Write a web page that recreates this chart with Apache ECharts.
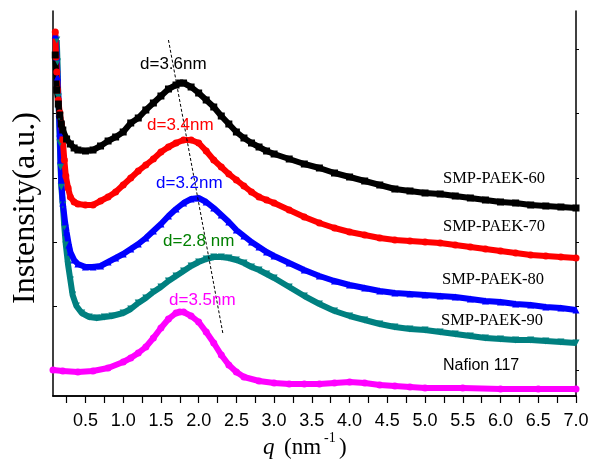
<!DOCTYPE html>
<html>
<head>
<meta charset="utf-8">
<script src="https://cdn.jsdelivr.net/npm/echarts@6/dist/echarts.min.js"></script>
<style>
  html, body { margin: 0; padding: 0; background: #fff; }
  #chart { width: 593px; height: 464px; }
</style>
</head>
<body>
<div id="chart"></div>
<script>
// SAXS profiles: [q (nm^-1), intensity (a.u., offset per sample)]
const paek60 = [[0.10,341],[0.12,306],[0.14,292],[0.16,281],[0.18,272],[0.20,266],[0.25,257],[0.30,252],[0.35,248],[0.40,246],[0.50,245],[0.60,246],[0.70,250],[0.80,255],[0.90,259],[1.00,264],[1.10,273],[1.20,278],[1.30,286],[1.40,293],[1.50,300],[1.60,307],[1.70,311],[1.75,313],[1.80,313],[1.90,309],[2.00,303],[2.10,296],[2.20,289],[2.30,280],[2.40,272],[2.50,264],[2.60,258],[2.70,253],[2.80,249],[2.90,245],[3.00,242],[3.20,237],[3.40,232],[3.60,228],[3.80,223],[4.00,219],[4.20,215],[4.40,211],[4.60,207],[4.80,205],[5.00,203],[5.20,202],[5.40,200],[5.60,198],[5.80,196],[6.00,194],[6.20,193],[6.40,191],[6.60,190],[6.80,189],[7.00,188]];

const paek70 = [[0.10,364],[0.11,339],[0.12,324],[0.13,306],[0.14,296],[0.16,283],[0.18,272],[0.20,256],[0.22,236],[0.24,220],[0.27,208],[0.30,199],[0.35,194],[0.40,192],[0.50,191],[0.60,191],[0.70,195],[0.80,199],[0.90,204],[1.00,211],[1.10,218],[1.20,225],[1.30,231],[1.40,237],[1.50,244],[1.60,249],[1.70,253],[1.80,256],[1.90,256],[2.00,253],[2.10,245],[2.20,236],[2.30,229],[2.40,222],[2.50,216],[2.60,210],[2.70,204],[2.80,199],[2.90,196],[3.00,193],[3.20,186],[3.40,179],[3.60,173],[3.80,168],[4.00,164],[4.20,161],[4.40,158],[4.60,156],[4.80,155],[5.00,154],[5.20,153],[5.40,151],[5.60,149],[5.80,147],[6.00,145],[6.20,143],[6.40,141],[6.60,140],[6.80,139],[7.00,138]];

const paek80 = [[0.10,361],[0.12,339],[0.13,319],[0.15,283],[0.16,263],[0.17,236],[0.18,216],[0.20,193],[0.23,174],[0.25,164],[0.28,151],[0.30,144],[0.35,136],[0.40,132],[0.50,129],[0.60,129],[0.70,130],[0.80,134],[0.90,138],[1.00,142],[1.10,147],[1.20,152],[1.30,158],[1.40,165],[1.50,172],[1.60,180],[1.70,187],[1.80,193],[1.90,197],[2.00,198],[2.10,194],[2.20,188],[2.30,181],[2.40,174],[2.50,166],[2.60,160],[2.70,154],[2.80,149],[2.90,144],[3.00,140],[3.20,133],[3.40,126],[3.60,120],[3.80,115],[4.00,111],[4.20,108],[4.40,105],[4.60,103],[4.80,102],[5.00,101],[5.20,100],[5.40,99],[5.60,97],[5.80,95],[6.00,94],[6.20,92],[6.40,91],[6.60,89],[6.80,88],[7.00,86]];

const paek90 = [[0.12,356],[0.13,334],[0.14,299],[0.15,279],[0.16,253],[0.17,229],[0.18,209],[0.20,191],[0.22,169],[0.24,151],[0.27,131],[0.30,116],[0.33,101],[0.38,90],[0.45,83],[0.55,79],[0.65,78],[0.75,79],[0.85,80],[1.00,83],[1.10,87],[1.20,93],[1.30,98],[1.40,104],[1.50,109],[1.60,115],[1.70,120],[1.80,125],[1.90,130],[2.00,134],[2.10,137],[2.20,139],[2.30,139],[2.40,138],[2.50,136],[2.60,133],[2.70,129],[2.80,126],[2.90,122],[3.00,118],[3.20,109],[3.40,100],[3.60,92],[3.80,85],[4.00,80],[4.20,76],[4.40,72],[4.60,69],[4.80,67],[5.00,66],[5.20,64],[5.40,62],[5.60,60],[5.80,58],[6.00,57],[6.20,56],[6.40,56],[6.60,55],[6.80,54],[7.00,53]];

const nafion117 = [[0.07,26],[0.20,25],[0.40,24],[0.60,25],[0.80,28],[1.00,34],[1.10,38],[1.20,43],[1.30,49],[1.40,58],[1.50,68],[1.60,77],[1.70,83],[1.75,84],[1.80,84],[1.90,80],[2.00,74],[2.10,64],[2.20,53],[2.30,41],[2.40,31],[2.50,24],[2.60,19],[2.80,15],[3.00,13],[3.20,12],[3.40,12],[3.60,12],[3.80,13],[4.00,14],[4.20,13],[4.40,11],[4.60,10],[4.80,9],[5.00,8],[5.50,8],[6.00,7],[6.50,7],[7.00,7]];

// dashed guide through the scattering maxima
const peakGuide = [[1.60,356],[2.32,63]];

// axis ticks and labels
const xTicks = [0.25,0.5,0.75,1.0,1.25,1.5,1.75,2.0,2.25,2.5,2.75,3.0,3.25,3.5,3.75,4.0,4.25,4.5,4.75,5.0,5.25,5.5,5.75,6.0,6.25,6.5,6.75,7.0];
const xLabels = [0.5,1.0,1.5,2.0,2.5,3.0,3.5,4.0,4.5,5.0,5.5,6.0,6.5,7.0];
const yTicks = [25.5,89.7,153.9,218.1,282.3,346.5];

const sampleNames = ['SMP-PAEK-60','SMP-PAEK-70','SMP-PAEK-80','SMP-PAEK-90','Nafion 117'];
const spacingLabels = ['d=3.6nm','d=3.4nm','d=3.2nm','d=2.8 nm','d=3.5nm'];

const chart = echarts.init(document.getElementById('chart'), null, { renderer: 'canvas' });

const SERIF = '"Liberation Serif", "Times New Roman", serif';
const SANS = '"Liberation Sans", Arial, sans-serif';
const downTri = 'path://M0,0 L10,0 L5,9 Z';

function band(name, data, color, symbol) {
  return {
    name: name,
    type: 'line',
    data: data,
    symbol: symbol,
    symbolSize: 7,
    showAllSymbol: true,
    lineStyle: { color: color, width: 6 },
    itemStyle: { color: color },
    emphasis: { disabled: true },
    animation: false
  };
}

const baseAxisLine = { show: true, lineStyle: { color: '#000', width: 1.5 } };

function txt(x, y, text, font, fill, extra) {
  return Object.assign({ type: 'text', x: x, y: y, z: 10,
    style: { text: text, font: font, fill: fill, textVerticalAlign: 'middle' } }, extra || {});
}

chart.setOption({
  backgroundColor: '#fff',
  animation: false,
  grid: { left: 53, top: 11, right: 17, bottom: 68 },
  xAxis: [
    {
      type: 'value', min: 0.07, max: 7.0, position: 'bottom',
      axisLine: baseAxisLine,
      axisTick: { show: true, inside: false, length: 7, customValues: xTicks, lineStyle: { color: '#000', width: 1.2 } },
      axisLabel: { customValues: xLabels, formatter: v => v.toFixed(1), fontFamily: SANS, fontSize: 18, color: '#000', margin: 16 },
      splitLine: { show: false }
    },
    {
      type: 'value', min: 0.07, max: 7.0, position: 'top',
      axisLine: baseAxisLine,
      axisTick: { show: true, inside: true, length: 3, customValues: xTicks, lineStyle: { color: '#000', width: 1 } },
      axisLabel: { show: false },
      splitLine: { show: false }
    }
  ],
  yAxis: [
    {
      type: 'value', min: 0, max: 385, position: 'left',
      axisLine: baseAxisLine,
      axisTick: { show: true, inside: true, length: 4, customValues: yTicks, lineStyle: { color: '#000', width: 1 } },
      axisLabel: { show: false },
      splitLine: { show: false }
    },
    {
      type: 'value', min: 0, max: 385, position: 'right',
      axisLine: baseAxisLine,
      axisTick: { show: true, inside: false, length: 3, customValues: yTicks, lineStyle: { color: '#000', width: 1 } },
      axisLabel: { show: false },
      splitLine: { show: false }
    }
  ],
  series: [
    band(sampleNames[4], nafion117, '#ff00ff', 'circle'),
    band(sampleNames[3], paek90, '#008080', downTri),
    band(sampleNames[2], paek80, '#0000ff', 'triangle'),
    band(sampleNames[1], paek70, '#ff0000', 'circle'),
    band(sampleNames[0], paek60, '#000000', 'rect'),
    {
      type: 'line',
      data: peakGuide,
      symbol: 'none',
      lineStyle: { color: '#000', width: 1, type: [3, 2] },
      emphasis: { disabled: true },
      z: 5,
      animation: false
    }
  ],
  graphic: [
    // y-axis title
    { type: 'text', x: 26, y: 208, rotation: Math.PI / 2,
      style: { text: 'Instensity(a.u.)', font: '32px ' + SERIF, fill: '#000', textAlign: 'center', textVerticalAlign: 'middle' } },
    // x-axis title: q (nm^-1)
    txt(263, 448, 'q', 'italic 23px ' + SERIF, '#000'),
    txt(284, 448, '(nm', '23px ' + SERIF, '#000'),
    txt(324, 438, '-1', '14px ' + SERIF, '#000'),
    txt(339, 448, ')', '23px ' + SERIF, '#000'),
    // sample names
    txt(443, 179, sampleNames[0], '16.5px ' + SERIF, '#000'),
    txt(443, 227, sampleNames[1], '16.5px ' + SERIF, '#000'),
    txt(442, 280, sampleNames[2], '16.5px ' + SERIF, '#000'),
    txt(441, 321, sampleNames[3], '16.5px ' + SERIF, '#000'),
    txt(443, 366, sampleNames[4], '16px ' + SANS, '#000'),
    // d-spacing annotations
    txt(140, 64, spacingLabels[0], '17px ' + SANS, '#000'),
    txt(147, 125, spacingLabels[1], '17px ' + SANS, '#ff0000'),
    txt(156, 183, spacingLabels[2], '17px ' + SANS, '#0000ff'),
    txt(163, 241, spacingLabels[3], '17px ' + SANS, '#008000'),
    txt(169, 300, spacingLabels[4], '17px ' + SANS, '#ff00ff')
  ]
});
</script>
</body>
</html>
